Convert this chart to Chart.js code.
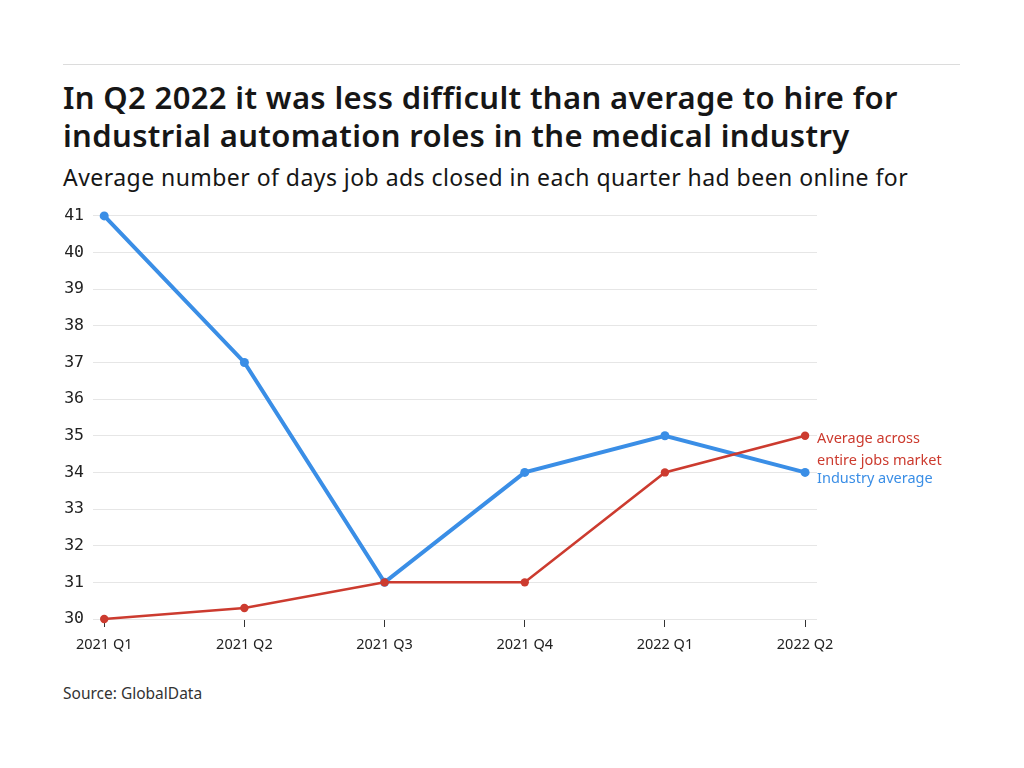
<!DOCTYPE html>
<html>
<head>
<meta charset="utf-8">
<script src="https://cdn.jsdelivr.net/npm/chart.js@4"></script>
<style>
  body { margin: 0; background: #fff; width: 1024px; height: 768px; position: relative; overflow: hidden; font-family: "Noto Sans", sans-serif; color: #161616; }
  .rule { position: absolute; left: 63px; top: 64px; width: 897px; height: 1px; background: #dcdcdc; }
  h1 { position: absolute; left: 63px; top: 78px; margin: 0; font-size: 31px; line-height: 38px; font-weight: 600; letter-spacing: 0.35px; white-space: nowrap; }
  .sub { position: absolute; left: 63px; top: 162px; margin: 0; font-size: 23px; line-height: 30px; letter-spacing: 0.45px; white-space: nowrap; }
  .source { position: absolute; left: 63px; top: 682px; font-size: 15.5px; color: #333; }
  #wrap { position: absolute; left: 0; top: 197px; width: 1024px; height: 463px; }
</style>
</head>
<body>
<div class="rule"></div>
<h1>In Q2 2022 it was less difficult than average to hire for<br>industrial automation roles in the medical industry</h1>
<p class="sub">Average number of days job ads closed in each quarter had been online for</p>
<div id="wrap"><canvas id="chart"></canvas></div>
<div class="source">Source: GlobalData</div>
<script>
const quarters = ['2021 Q1', '2021 Q2', '2021 Q3', '2021 Q4', '2022 Q1', '2022 Q2'];
const industryAverage = [41, 37, 31, 34, 35, 34];
const marketAverage = [30, 30.3, 31, 31, 34, 35];
const yTicks = [30, 31, 32, 33, 34, 35, 36, 37, 38, 39, 40, 41];

const blue = '#3a8ee6';
const red = '#cc3b2f';

function toPoints(values) {
    return values.map(function(v, i) { return { x: i, y: v }; });
}

// labels at the end of each line
const endLabels = {
    id: 'endLabels',
    afterDatasetsDraw: function(chart) {
        const ctx = chart.ctx;
        const last = quarters.length - 1;
        const redPt = chart.getDatasetMeta(0).data[last];
        const bluePt = chart.getDatasetMeta(1).data[last];
        ctx.save();
        ctx.font = '14.5px "Noto Sans", sans-serif';
        ctx.textBaseline = 'middle';
        ctx.textAlign = 'left';
        const x = chart.chartArea.right;
        ctx.fillStyle = red;
        ctx.fillText('Average across', x, redPt.y + 3);
        ctx.fillText('entire jobs market', x, redPt.y + 25);
        ctx.fillStyle = blue;
        ctx.fillText('Industry average', x, bluePt.y + 6);
        ctx.restore();
    }
};

new Chart(document.getElementById('chart').getContext('2d'), {
    type: 'line',
    data: {
        datasets: [{
            label: 'Average across entire jobs market',
            data: toPoints(marketAverage),
            borderColor: red,
            backgroundColor: red,
            borderWidth: 2.5,
            pointRadius: 4.2,
            pointBorderWidth: 0,
            pointHoverRadius: 4.2,
            tension: 0,
            clip: false
        }, {
            label: 'Industry average',
            data: toPoints(industryAverage),
            borderColor: blue,
            backgroundColor: blue,
            borderWidth: 4,
            pointRadius: 4.5,
            pointBorderWidth: 0,
            pointHoverRadius: 4.5,
            tension: 0,
            clip: false
        }]
    },
    options: {
        responsive: true,
        maintainAspectRatio: false,
        animation: false,
        layout: { padding: { top: 10, right: 207, left: 0, bottom: 0 } },
        plugins: {
            legend: { display: false },
            tooltip: { enabled: false }
        },
        scales: {
            x: {
                type: 'linear',
                min: -0.08,
                max: 5.085,
                afterFit: function(scale) { scale.height = 41; },
                grid: {
                    drawOnChartArea: false,
                    drawTicks: true,
                    tickLength: 8,
                    tickColor: '#333',
                    tickWidth: 1
                },
                border: { display: false },
                afterBuildTicks: function(scale) {
                    scale.ticks = quarters.map(function(q, i) { return { value: i }; });
                },
                ticks: {
                    stepSize: 1,
                    includeBounds: false,
                    autoSkip: false,
                    maxRotation: 0,
                    padding: 9,
                    color: '#222',
                    font: { family: '"Noto Sans", sans-serif', size: 14.5 },
                    callback: function(value) { return quarters[value]; }
                }
            },
            y: {
                min: 30,
                max: 41,
                afterFit: function(scale) { scale.width = 93; },
                afterBuildTicks: function(scale) {
                    scale.ticks = yTicks.map(function(v) { return { value: v }; });
                },
                grid: {
                    color: '#e6e6e6',
                    lineWidth: 1,
                    drawTicks: false
                },
                border: { display: false },
                ticks: {
                    padding: 9,
                    color: '#222',
                    font: { family: '"DejaVu Sans Mono", monospace', size: 16.5 }
                }
            }
        }
    },
    plugins: [endLabels]
});
</script>
</body>
</html>
